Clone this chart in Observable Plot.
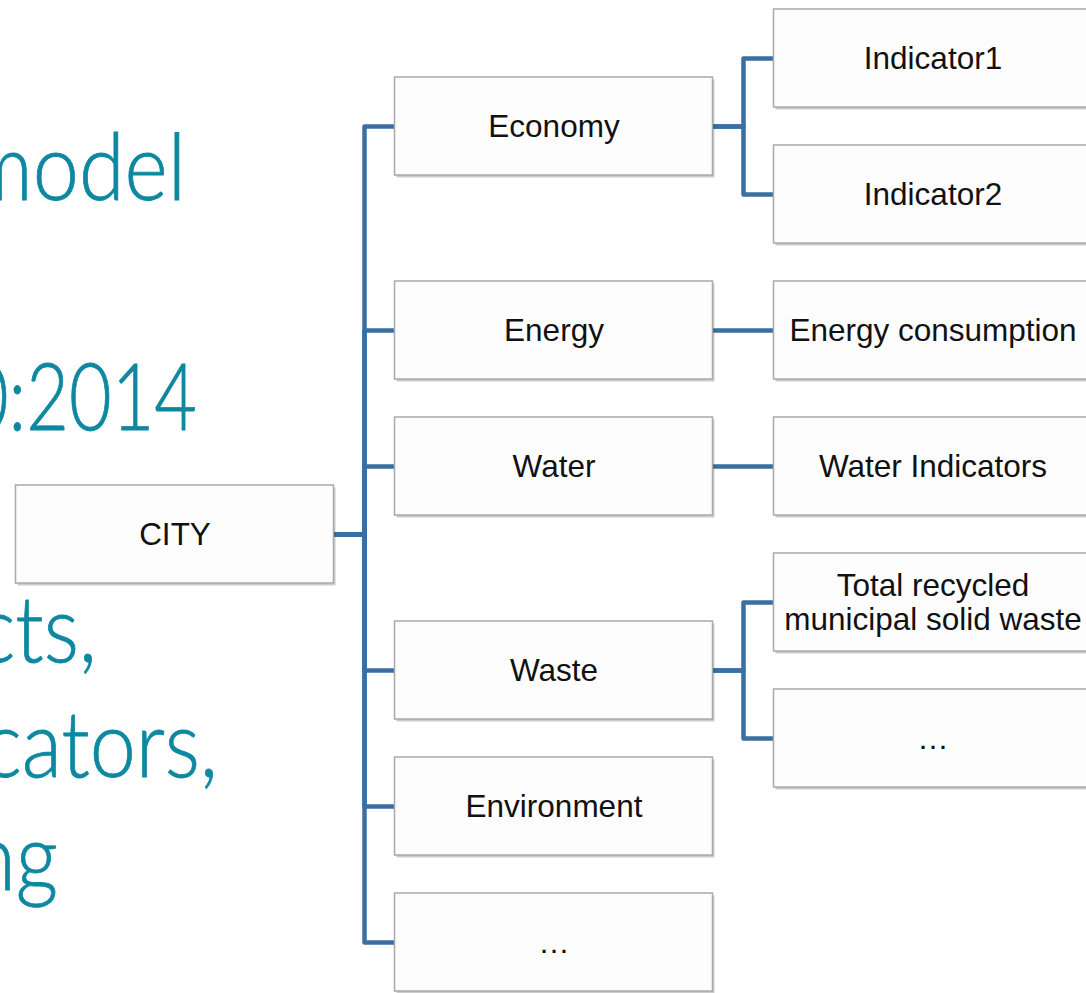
<!DOCTYPE html>
<html>
<head>
<meta charset="utf-8">
<script src="https://cdn.jsdelivr.net/npm/d3@7"></script>
<script src="https://cdn.jsdelivr.net/npm/@observablehq/plot@0.6"></script>
<style>
  html, body { margin: 0; padding: 0; background: #ffffff; }
  #wrap { position: relative; width: 1086px; height: 993px; overflow: hidden; background: #ffffff; }
  #bg { position: absolute; left: 0; top: 0; }
  #chart { position: absolute; left: 0; top: 0; }
</style>
</head>
<body>
<div id="wrap">
  <svg id="bg" width="1086" height="993"></svg>
  <div id="chart"></div>
</div>
<script>
// ---- data ----
const rootName = "CITY";
const level1Names = ["Economy", "Energy", "Water", "Waste", "Environment", "…"];
const level2Names = ["Indicator1", "Indicator2", "Energy consumption", "Water Indicators", "Total recycled\nmunicipal solid waste", "…"];
const level2Parents = ["Economy", "Economy", "Energy", "Water", "Waste", "Waste"];
// background slide text (cut off at the left edge of the picture)
const slideLines = ["model", "0:2014", "cts,", "cators,", "ng"];

// ---- layout (tidy tree: leaves on consecutive rows, parents centred on children) ----
const nodes = [];
const links = [];
const l2 = level2Names.map((name, i) => ({name, level: 2, row: i, parent: level2Parents[i]}));
let prev = -Infinity;
const l1 = level1Names.map(name => {
  const kids = l2.filter(d => d.parent === name);
  const row = kids.length ? d3.mean(kids, d => d.row) : prev + 1;
  prev = row;
  return {name, level: 1, row};
});
const root = {name: rootName, level: 0, row: (l1[0].row + l1[l1.length - 1].row) / 2};
nodes.push(root, ...l1, ...l2);

const W = 1086, H = 993;
const levelPx = 379, level0Center = 174.5;
const rowPx = 136, row0 = 58;
const hw = 159 / levelPx;  // half box width in level units
const hh = 49 / rowPx;     // half box height in row units

for (const c of l1) links.push({x1: root.level + hw, y1: root.row, x2: c.level - hw, y2: c.row});
for (const c of l2) {
  const p = l1.find(d => d.name === c.parent);
  links.push({x1: p.level + hw, y1: p.row, x2: c.level - hw, y2: c.row});
}

// ---- background slide text ----
const bg = d3.select("#bg");
const slideRight = [186, 197, 97, 218, 58];
const slideBase = [200, 430, 662, 777, 890];
bg.selectAll("text").data(slideLines).join("text")
  .attr("transform", (d, i) => `translate(${slideRight[i]},${slideBase[i]}) scale(${i === 1 ? 0.8 : 0.9},1)`)
  .attr("text-anchor", "end")
  .attr("font-family", "Lato, 'Open Sans', sans-serif")
  .attr("font-weight", 300)
  .attr("font-size", 92)
  .attr("fill", "#0e88a0")
  .attr("stroke", "#0e88a0")
  .attr("stroke-width", 0.8)
  .text(d => d);

// ---- diagram ----
const chart = Plot.plot({
  width: W,
  height: H,
  margin: 0,
  style: {background: "transparent", overflow: "visible"},
  x: {type: "linear", domain: [-level0Center / levelPx, (W - level0Center) / levelPx], range: [0, W], axis: null},
  y: {type: "linear", domain: [-row0 / rowPx, (H - row0) / rowPx], range: [0, H], axis: null},
  marks: [
    Plot.link(links, {
      x1: "x1", y1: "y1", x2: "x2", y2: "y2",
      curve: "step",
      stroke: "#3a6fa3",
      strokeWidth: 4.5,
      strokeLinejoin: "round"
    }),
    Plot.rect(nodes, {
      x1: d => d.level - hw, x2: d => d.level + hw,
      y1: d => d.row - hh, y2: d => d.row + hh,
      fill: "#000", fillOpacity: 0.2, dx: 2, dy: 2.5
    }),
    Plot.rect(nodes, {
      x1: d => d.level - hw, x2: d => d.level + hw,
      y1: d => d.row - hh, y2: d => d.row + hh,
      fill: "#fdfdfd", stroke: "#a9a9a9", strokeWidth: 1.5
    }),
    Plot.text(nodes, {
      x: "level", y: "row", text: "name",
      fontSize: 31.5,
      fontFamily: "'Liberation Sans', Arial, sans-serif",
      fill: "#111111",
      lineHeight: 1.08
    })
  ]
});
document.getElementById("chart").appendChild(chart);
</script>
</body>
</html>
